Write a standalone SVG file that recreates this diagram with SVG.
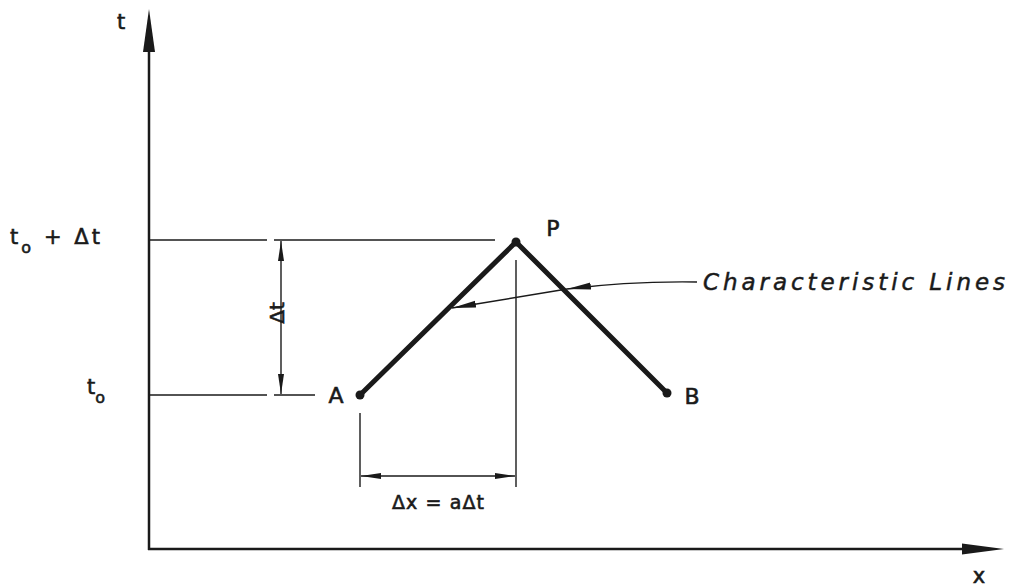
<svg xmlns="http://www.w3.org/2000/svg" width="1013" height="586" viewBox="0 0 1013 586">
<style>
.ax{stroke:#1a1a1a;stroke-width:2.5;fill:none}
.thin{stroke:#1a1a1a;stroke-width:1.4;fill:none}
.heavy{stroke:#1a1a1a;stroke-width:5;fill:none;stroke-linecap:round}
.lbl{font-family:"DejaVu Sans","Liberation Sans",sans-serif;fill:#1a1a1a;stroke:#1a1a1a;stroke-width:0.6}
.it{font-family:"DejaVu Sans","Liberation Sans",sans-serif;font-style:italic;fill:#1a1a1a;stroke:#1a1a1a;stroke-width:0.5}
</style>
<defs>
<marker id="dim" viewBox="0 0 20 8" refX="20" refY="4" markerWidth="20" markerHeight="8" markerUnits="userSpaceOnUse" orient="auto-start-reverse">
<path d="M0,1 L20,4 L0,7 Z" fill="#1a1a1a"/>
</marker>
<marker id="lead" viewBox="0 0 24 8" refX="24" refY="4" markerWidth="24" markerHeight="8" markerUnits="userSpaceOnUse" orient="auto">
<path d="M0,0.5 L24,4 L0,7.5 Z" fill="#1a1a1a"/>
</marker>
</defs>
<rect width="1013" height="586" fill="#ffffff"/>
<g id="axes">
<line class="ax" x1="149" y1="550" x2="149" y2="40"/>
<path d="M149,9 L155,52 L143,52 Z" fill="#1a1a1a"/>
<line class="ax" x1="148" y1="549" x2="970" y2="549"/>
<path d="M1004,549 L962,543.5 L962,554.5 Z" fill="#1a1a1a"/>
<text class="lbl" x="121" y="29" font-size="21" text-anchor="middle">t</text>
<text class="lbl" x="979" y="583" font-size="21" text-anchor="middle">x</text>
</g>
<g id="connectors">
<line class="thin" x1="149" y1="240" x2="267" y2="240"/>
<line class="thin" x1="274" y1="240" x2="495" y2="240"/>
<line class="thin" x1="149" y1="395" x2="267" y2="395"/>
<line class="thin" x1="274" y1="395" x2="315" y2="395"/>
<line class="thin" x1="281" y1="241" x2="281" y2="394" marker-start="url(#dim)" marker-end="url(#dim)"/>
<line class="thin" x1="360" y1="413" x2="360" y2="487"/>
<line class="thin" x1="516" y1="260" x2="516" y2="487"/>
<line class="thin" x1="361" y1="476" x2="515" y2="476" marker-start="url(#dim)" marker-end="url(#dim)"/>
<path class="thin" d="M697,282 Q630,281 567,289" marker-end="url(#lead)"/>
<path class="thin" d="M567,289 L452,308" marker-end="url(#lead)"/>
</g>
<g id="char-lines">
<polyline class="heavy" points="360,395 516,242 667,393"/>
</g>
<g id="A">
<circle cx="360" cy="395" r="4.5" fill="#1a1a1a"/>
<text class="lbl" x="336" y="403" font-size="22" text-anchor="middle">A</text>
</g>
<g id="P">
<circle cx="516" cy="242" r="4.5" fill="#1a1a1a"/>
<text class="lbl" x="553" y="236" font-size="22" text-anchor="middle">P</text>
</g>
<g id="B">
<circle cx="667" cy="393" r="4.5" fill="#1a1a1a"/>
<text class="lbl" x="692" y="404" font-size="22" text-anchor="middle">B</text>
</g>
<g id="labels">
<text class="lbl" font-size="21" x="10" y="244" textLength="90" lengthAdjust="spacing">t<tspan font-size="16" dy="9">o</tspan><tspan dy="-9"> + Δt</tspan></text>
<text class="lbl" font-size="21" x="87" y="394">t<tspan font-size="16" dy="9">o</tspan></text>
<text class="lbl" font-size="20" transform="translate(284,313) rotate(-90)" text-anchor="middle">Δt</text>
<text class="lbl" font-size="19" x="438" y="509" text-anchor="middle" textLength="92" lengthAdjust="spacing">Δx = aΔt</text>
<text class="it" font-size="23" x="703" y="290" textLength="302" lengthAdjust="spacing">Characteristic Lines</text>
</g>
</svg>
